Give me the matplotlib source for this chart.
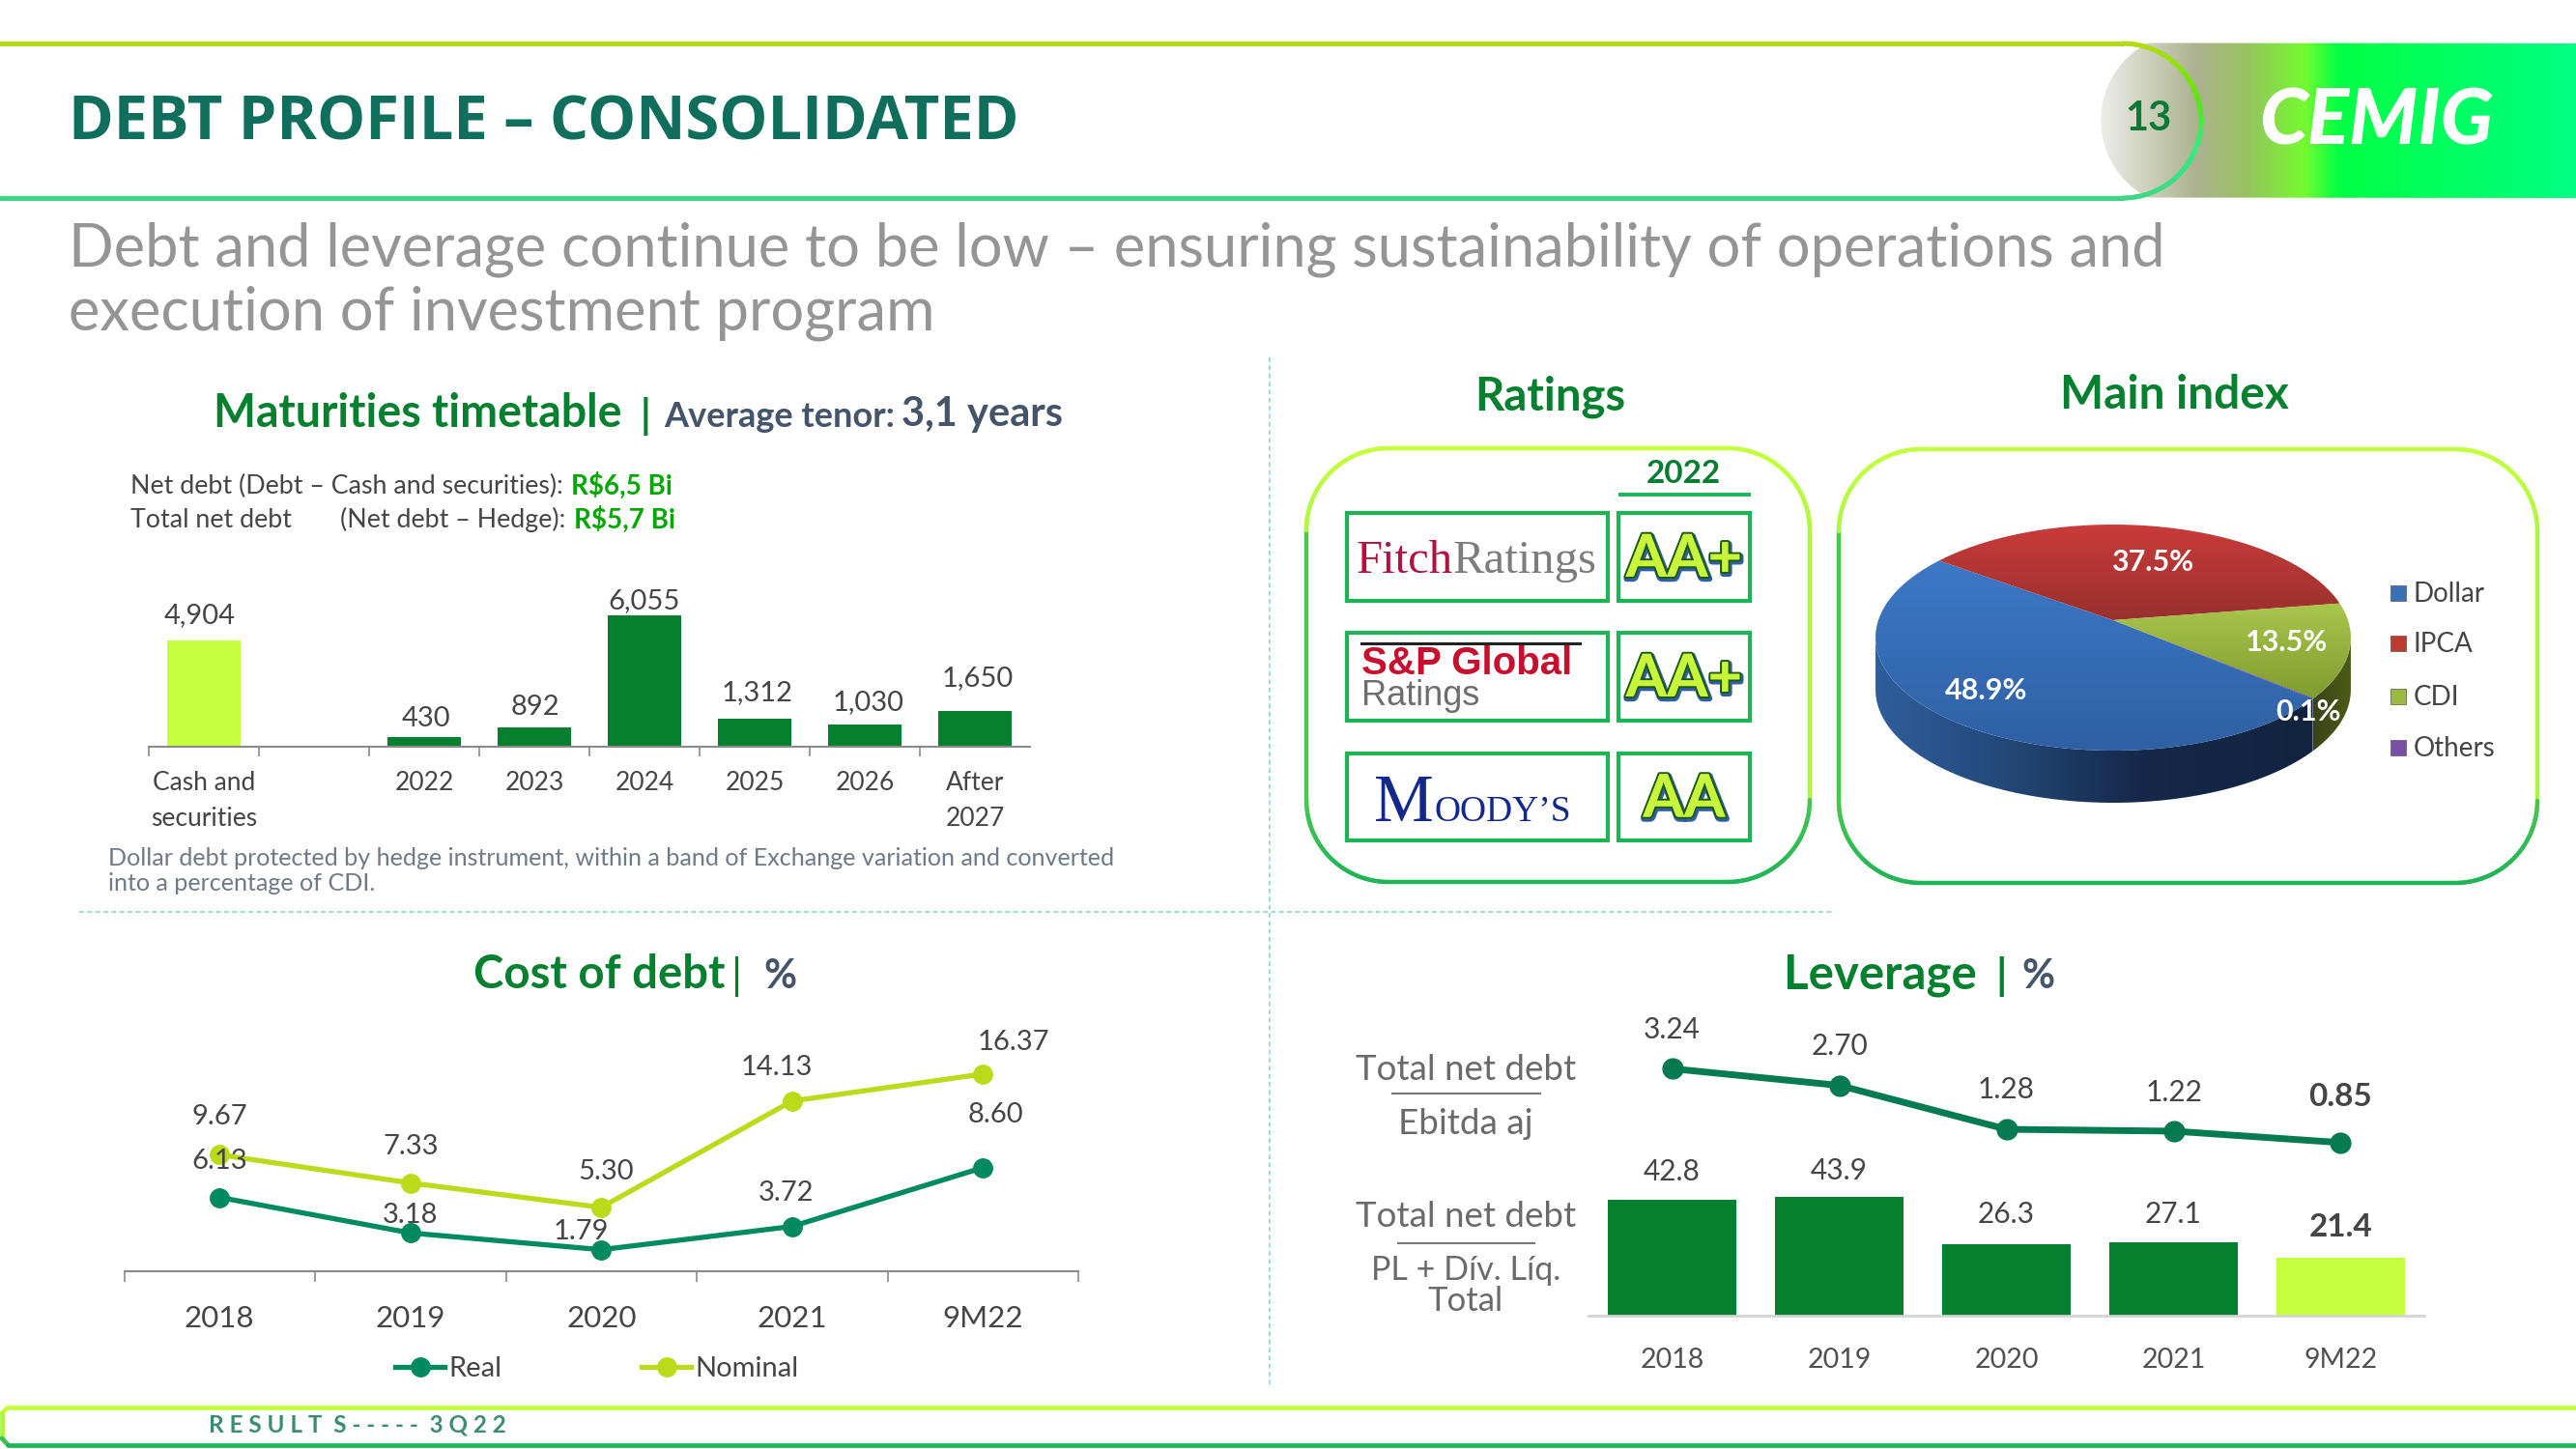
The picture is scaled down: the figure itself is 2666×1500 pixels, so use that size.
import numpy as np
import matplotlib
matplotlib.use('Agg')
import matplotlib.pyplot as plt
import matplotlib.patheffects as pe
from matplotlib.collections import LineCollection
from matplotlib.colors import LinearSegmentedColormap
from matplotlib.patches import Polygon, Rectangle

# Data.
maturity_labels = ['Cash and\nsecurities', '', '2022', '2023', '2024', '2025', '2026', 'After\n2027']
maturity_values = [4904, 0, 430, 892, 6055, 1312, 1030, 1650]
maturity_text = ['4,904', '', '430', '892', '6,055', '1,312', '1,030', '1,650']

cost_years = ['2018', '2019', '2020', '2021', '9M22']
cost_real = [6.13, 3.18, 1.79, 3.72, 8.60]
cost_nominal = [9.67, 7.33, 5.30, 14.13, 16.37]

lev_years = ['2018', '2019', '2020', '2021', '9M22']
lev_ebitda = [3.24, 2.70, 1.28, 1.22, 0.85]
lev_equity = [42.8, 43.9, 26.3, 27.1, 21.4]

index_labels = ['Dollar', 'IPCA', 'CDI', 'Others']
index_values = [48.9, 37.5, 13.5, 0.1]

agency_ratings = ['AA+', 'AA+', 'AA']

W, H = 2666, 1500
DARK_GREEN = '#05802F'
LIME = '#C4FF3E'
SLATE = '#44546A'
TEXT = '#454545'
CELL = '#1DB455'

plt.rcParams['font.family'] = ['Lato', 'DejaVu Sans']
fig = plt.figure(figsize=(W / 100, H / 100), dpi=100, facecolor='white')

bg = fig.add_axes([0, 0, 1, 1])
bg.set_xlim(0, W)
bg.set_ylim(H, 0)
bg.axis('off')


def px_axes(x0, y0, x1, y1):
    ax = fig.add_axes([x0 / W, 1 - y1 / H, (x1 - x0) / W, (y1 - y0) / H])
    ax.patch.set_alpha(0)
    return ax


def grad_fill(poly, stops, vertical=False, zorder=2):
    poly = np.asarray(poly)
    x0, y0 = poly.min(axis=0)
    x1, y1 = poly.max(axis=0)
    ramp = np.linspace(0, 1, 256)
    ramp = ramp.reshape(-1, 1) if vertical else ramp.reshape(1, -1)
    cmap = LinearSegmentedColormap.from_list('g', stops)
    im = bg.imshow(ramp, extent=[x0, x1, y1, y0], cmap=cmap, aspect='auto', zorder=zorder, vmin=0, vmax=1)
    im.set_clip_path(Polygon(poly, closed=True, transform=bg.transData))


def grad_stroke(xy, stops, lw, zorder=3):
    # Stroke coloured by height, lime at the top to green at the bottom.
    xy = np.asarray(xy)
    segs = np.stack([xy[:-1], xy[1:]], axis=1)
    cmap = LinearSegmentedColormap.from_list('s', stops)
    level = (xy[:-1, 1] - xy[:, 1].min()) / (xy[:, 1].max() - xy[:, 1].min())
    bg.add_collection(LineCollection(segs, colors=cmap(level), linewidths=lw, zorder=zorder, capstyle='round'))


def round_rect(x0, y0, x1, y1, r):
    pts = []
    for cx, cy, a in [(x1 - r, y0 + r, -90), (x1 - r, y1 - r, 0), (x0 + r, y1 - r, 90), (x0 + r, y0 + r, 180)]:
        t = np.radians(np.linspace(a, a + 90, 40))
        pts.append(np.c_[cx + r * np.cos(t), cy + r * np.sin(t)])
    pts = np.vstack(pts)
    return np.vstack([pts, pts[:1]])


def txt(x, y, s, size, color=TEXT, weight='normal', ha='left', va='center', family=None, **kw):
    if family is not None:
        kw['family'] = family
    return bg.text(x, y + 3, s, fontsize=size, color=color, fontweight=weight, ha=ha, va=va, zorder=6, **kw)


# Header.
t = np.radians(np.linspace(117, 243, 60))
header_shape = np.vstack([np.c_[2264 + 89.8 * np.cos(t), 124.5 + 89.8 * np.sin(t)], [[2666, 45], [2666, 205]]])
grad_fill(header_shape, [(0, '#EDEDE9'), (0.2, '#ACB28F'), (0.31, '#96C45E'), (0.43, '#74FA30'),
                         (0.5, '#02FF44'), (1, '#00FF82')], zorder=1)
t = np.radians(np.linspace(-90, 90, 60))
header_line = np.vstack([[[0, 45]], np.c_[2197 + 81 * np.cos(t), 125 + 80 * np.sin(t)], [[0, 205]]])
grad_stroke(header_line, ['#B4DC14', '#5CE800', '#30EE80', '#3ED884'], 3.6)
txt(71, 125, 'DEBT PROFILE – CONSOLIDATED', 45.5, '#0F6F5C', 'bold', family='Open Sans')
txt(2223, 120, '13', 30, '#0A7A35', 'bold', ha='center')
txt(2459, 124, 'CEMIG', 58, 'white', 'black', ha='center', style='italic')

txt(71, 255, 'Debt and leverage continue to be low – ensuring sustainability of operations and', 44.2, '#959595')
txt(71, 321, 'execution of investment program', 44.2, '#959595')

# Dividers.
bg.plot([1314, 1314], [370, 1437], color='#86DCCB', lw=1.2, ls=(0, (3, 2)), zorder=1)
bg.plot([82, 1896], [944, 944], color='#86DCCB', lw=1.2, ls=(0, (3, 2)), zorder=1)

# Maturities timetable.
txt(221, 425, 'Maturities timetable', 33.5, DARK_GREEN, 'bold')
txt(663, 428, '|', 30, DARK_GREEN, 'bold')
txt(687, 428, 'Average tenor:', 26, SLATE, 'bold')
txt(933, 426, '3,1 years', 30, SLATE, 'bold')
txt(135, 500, 'Net debt (Debt – Cash and securities):', 19.3)
txt(591, 500, 'R$6,5 Bi', 20, '#00A800', 'bold')
txt(135, 535, 'Total net debt', 19.3)
txt(352, 535, '(Net debt – Hedge):', 19.3)
txt(594, 535, 'R$5,7 Bi', 20, '#00A800', 'bold')

ax = px_axes(154, 637, 1066, 773)
pos = np.arange(len(maturity_values))
ax.bar(pos, maturity_values, width=0.667, color=[LIME] + [DARK_GREEN] * 7)
ax.set_xlim(-0.5, 7.5)
ax.set_ylim(0, 6055)
for side in ['top', 'left', 'right']:
    ax.spines[side].set_visible(False)
ax.spines['bottom'].set_color('#8A8A8A')
ax.spines['bottom'].set_linewidth(1.5)
ax.set_yticks([])
ax.set_xticks(pos)
ax.set_xticklabels(maturity_labels, fontsize=19, color=TEXT, linespacing=1.6)
ax.tick_params(axis='x', length=0, pad=18)
ax.set_xticks(np.arange(-0.5, 7), minor=True)
ax.tick_params(axis='x', which='minor', length=7, color='#8A8A8A', width=1.2)
label_lift = [26, 0, 19, 21, 15, 26, 23, 34]
label_shift = [-4, 0, 2, 1, 0, 3, 4, 3]
for i, s in enumerate(maturity_text):
    if s:
        ax.annotate(s, (pos[i], maturity_values[i]), xytext=(label_shift[i] * 0.72, label_lift[i] * 0.72),
                    textcoords='offset points', ha='center', va='center', fontsize=21, color=TEXT, annotation_clip=False)

txt(112, 885, 'Dollar debt protected by hedge instrument, within a band of Exchange variation and converted', 18.1, '#6F7A88')
txt(112, 912, 'into a percentage of CDI.', 18.1, '#6F7A88')

# Ratings box.
txt(1604, 408, 'Ratings', 34, DARK_GREEN, 'bold', ha='center')
grad_stroke(round_rect(1352, 464, 1873, 913, 85), [LIME, '#8BE84A', '#1FB455'], 3.2)
txt(1742, 488, '2022', 24, '#067D30', 'bold', ha='center')
bg.plot([1677, 1810], [512, 512], color=CELL, lw=2.8, zorder=3)
row_tops = [531, 655, 779.5]
for top, rating in zip(row_tops, agency_ratings):
    bg.add_patch(Rectangle((1394, top), 270, 90.5, fc='white', ec=CELL, lw=3, zorder=3))
    bg.add_patch(Rectangle((1675, top), 136, 90.5, fc='white', ec=CELL, lw=3, zorder=3))
    label = txt(1743, top + 45, rating, 44, '#C8F53C', 'bold', ha='center')
    label.set_path_effects([pe.withStroke(linewidth=4.5, foreground='#2F5FA8', offset=(0.8, -1.5)),
                            pe.withStroke(linewidth=3, foreground='#1C5A12'), pe.Normal()])

txt(1404, 578, 'Fitch', 35, '#B0123F', family='Liberation Serif')
txt(1504, 578, 'Ratings', 35, '#7D7D7D', family='Liberation Serif')
bg.plot([1409, 1635], [666, 666], color='#222222', lw=2.2, zorder=6)
txt(1409, 684, 'S&P Global', 29, '#C8102E', 'bold', family='Liberation Sans')
txt(1409, 718, 'Ratings', 26, '#6E6E6E', family='Liberation Sans')
txt(1422, 847, 'M', 50, '#13288C', va='baseline', family='Liberation Serif')
txt(1484, 847, 'OODY’S', 27, '#13288C', va='baseline', family='Liberation Serif')

# Main index: tilted pie, a circle pushed through a perspective map.
txt(2250, 406, 'Main index', 34.5, DARK_GREEN, 'bold', ha='center')
grad_stroke(round_rect(1903, 465, 2626, 914, 85), [LIME, '#8BE84A', '#1FB455'], 3.2)


def tilt(deg, drop=0):
    a = np.radians(deg)
    x, y = np.cos(a), np.sin(a)
    d = 1 + 0.154 * y
    return np.c_[2187 + 243 * x / d, 642 - 114.2 * y / d + drop]


edges = -40 - np.concatenate([[0], np.cumsum(index_values)]) / sum(index_values) * 360
depth = 54
tops = [[(0, '#3D78C6'), (1, '#2F60A4')], [(0, '#C93B3A'), (1, '#98302E')],
        [(0, '#A9C64C'), (1, '#7F9C30')], [(0, '#7A4FA8'), (1, '#5A3A88')]]
# Side wall first; only the front of the cake shows.
front = np.linspace(-171, -40, 120)
wall = np.vstack([tilt(front), tilt(front[::-1], depth)])
grad_fill(wall, [(0, '#2F5E9C'), (0.3, '#234878'), (0.6, '#16294A'), (1, '#12233F')], zorder=2)
front = np.linspace(-40, -9, 40)
wall = np.vstack([tilt(front), tilt(front[::-1], depth)])
grad_fill(wall, [(0, '#39431A'), (1, '#4C5C14')], zorder=2)
for i, stops in enumerate(tops):
    arc = tilt(np.linspace(edges[i], edges[i + 1], 200))
    grad_fill(np.vstack([[[2187, 642]], arc]), stops, vertical=True, zorder=3)
for (x, y), v in zip([(2056, 712), (2228, 579), (2367, 662), (2389, 734)], index_values):
    txt(x, y, f'{v}%', 22, 'white', 'bold', ha='center')
legend_colors = ['#3A70B8', '#C0392F', '#9ABB3E', '#7A4FA8']
for name, c, y in zip(index_labels, legend_colors, [614, 666, 721, 774]):
    bg.add_patch(Rectangle((2474, y - 8), 16, 16, fc=c, ec='#555555', lw=0.5, zorder=4))
    txt(2498, y - 2, name, 20)

# Cost of debt.
txt(490, 1006, 'Cost of debt', 34, DARK_GREEN, 'bold')
txt(757, 1008, '|', 32, DARK_GREEN)
txt(790, 1008, '%', 30, SLATE, 'bold')

ax = px_axes(128.5, 1091.5, 1116, 1316)
pos = np.arange(len(cost_years))
real_c, nominal_c = '#008A60', '#BBDB1A'
line_real, = ax.plot(pos, cost_real, color=real_c, lw=3.8, marker='o', ms=14, label='Real')
line_nominal, = ax.plot(pos, cost_nominal, color=nominal_c, lw=3.8, marker='o', ms=14, label='Nominal')
ax.set_xlim(-0.5, 4.5)
ax.set_ylim(0, 18)
for side in ['top', 'left', 'right']:
    ax.spines[side].set_visible(False)
ax.spines['bottom'].set_color('#8A8A8A')
ax.spines['bottom'].set_linewidth(1.5)
ax.set_yticks([])
ax.set_xticks(pos)
ax.set_xticklabels(cost_years, fontsize=22.5, color=TEXT)
ax.tick_params(axis='x', length=0, pad=25)
ax.set_xticks(np.arange(-0.5, 5), minor=True)
ax.tick_params(axis='x', which='minor', length=8, color='#8A8A8A', width=1.2)
nominal_off = [(0, 39), (0, 38), (5, 37), (-16, 35), (32, 33)]
real_off = [(0, 38), (0, 18), (-21, 19), (-6, 35), (13, 55)]
for series, offs in [(cost_nominal, nominal_off), (cost_real, real_off)]:
    for i, v in enumerate(series):
        ax.annotate(f'{v:.2f}', (pos[i], v), xytext=(offs[i][0] * 0.72, offs[i][1] * 0.72),
                    textcoords='offset points', ha='center', va='center', fontsize=21, color=TEXT, zorder=8)
fig.legend(handles=[line_real, line_nominal], loc='center', bbox_to_anchor=(618 / W, 1 - 1417 / H), ncol=2, frameon=False,
           fontsize=21, labelcolor=TEXT, handlelength=1.75, handletextpad=0.15, columnspacing=4.95)

# Leverage.
txt(1846, 1006, 'Leverage', 35.5, DARK_GREEN, 'bold')
txt(2065, 1008, '|', 32, DARK_GREEN, 'bold')
txt(2092, 1008, '%', 30, SLATE, 'bold')

for y, s, size in [(1104, 'Total net debt', 26.5), (1160, 'Ebitda aj', 26.5), (1257, 'Total net debt', 26.5),
                   (1312, 'PL + Dív. Líq.', 24.5), (1344, 'Total', 25)]:
    txt(1517, y, s, size, '#6A6A6A', ha='center')
bg.plot([1441, 1594], [1132, 1132], color='#777777', lw=1.5)
bg.plot([1447, 1588], [1286.5, 1286.5], color='#777777', lw=1.5)

ax = px_axes(1644, 1239, 2509, 1362)
pos = np.arange(len(lev_years))
ax.bar(pos, lev_equity, width=0.77, color=[DARK_GREEN] * 4 + [LIME])
ax.set_xlim(-0.5, 4.5)
ax.set_ylim(0, 43.9)
for side in ['top', 'left', 'right']:
    ax.spines[side].set_visible(False)
ax.spines['bottom'].set_color('#D4D4D4')
ax.spines['bottom'].set_linewidth(2)
ax.set_yticks([])
ax.set_xticks(pos)
ax.set_xticklabels(lev_years, fontsize=20.5, color='#505050')
ax.tick_params(axis='x', length=0, pad=24)
bar_lift = [29, 27, 31, 29, 32]
for i, v in enumerate(lev_equity):
    last = i == len(lev_equity) - 1
    ax.annotate(f'{v:.1f}', (pos[i], v), xytext=(0, bar_lift[i] * 0.72), textcoords='offset points', ha='center', va='center',
                fontsize=24 if last else 21.5, color=TEXT, fontweight='bold' if last else 'normal', annotation_clip=False)

ax = px_axes(1644, 1082, 2509, 1210)
ax.plot(pos, lev_ebitda, color='#067A50', lw=5, marker='o', ms=15, clip_on=False)
ax.set_xlim(-0.5, 4.5)
ax.set_ylim(0, 4)
ax.axis('off')
line_lift = [40, 41, 41, 40, 47]
for i, v in enumerate(lev_ebitda):
    last = i == len(lev_ebitda) - 1
    ax.annotate(f'{v:.2f}', (pos[i], v), xytext=(0, line_lift[i] * 0.72), textcoords='offset points', ha='center', va='center',
                fontsize=24 if last else 21.5, color=TEXT, fontweight='bold' if last else 'normal', annotation_clip=False)

# Footer.
foot = [[2666, 1457], [8, 1457], [2, 1463], [2, 1489], [8, 1495.5], [2666, 1495.5]]
grad_stroke(foot, [LIME, '#1FB455'], 3.4)
txt(216, 1472, 'R E S U L T  S - - - - -  3 Q 2 2', 17.5, '#3B8C72', 'bold')

bg.set_xlim(0, W)
bg.set_ylim(H, 0)
fig.savefig('out.png', dpi=100)
